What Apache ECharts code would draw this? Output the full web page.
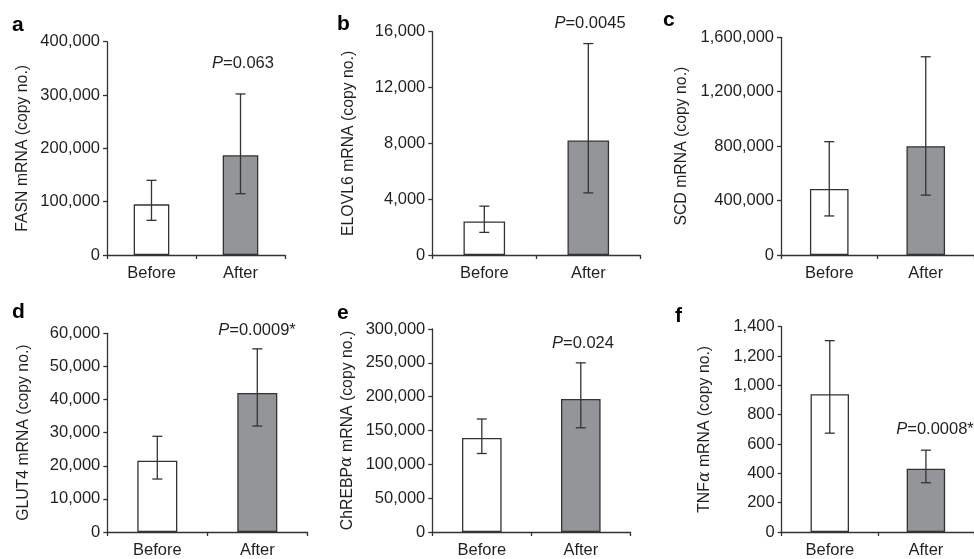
<!DOCTYPE html>
<html><head><meta charset="utf-8">
<script src="https://cdn.jsdelivr.net/npm/echarts@6/dist/echarts.min.js"></script>
<style>html,body{margin:0;padding:0;background:#fff}#c{width:974px;height:559px}</style>
</head><body><div id="c"></div>
<script>
const categories = ['Before', 'After'];
// panel a: FASN
const fasnMean = [95000, 187000];
const fasnLow = [65000, 115000];
const fasnHigh = [140000, 302000];
// panel b: ELOVL6
const elovlMean = [2400, 8200];
const elovlLow = [1620, 4450];
const elovlHigh = [3500, 15150];
// panel c: SCD
const scdMean = [485000, 800000];
const scdLow = [287000, 440000];
const scdHigh = [833000, 1457000];
// panel d: GLUT4
const glutMean = [21500, 42000];
const glutLow = [16000, 32000];
const glutHigh = [28900, 55300];
// panel e: ChREBPa
const chrebpMean = [139000, 196500];
const chrebpLow = [116000, 154000];
const chrebpHigh = [167000, 250000];
// panel f: TNFa
const tnfMean = [940, 432];
const tnfLow = [674, 336];
const tnfHigh = [1305, 558];
// axis ranges
const yMax = [400000, 16000, 1600000, 60000, 300000, 1400];
const yStep = [100000, 4000, 400000, 10000, 50000, 200];
const yTitles = [
  'FASN mRNA (copy no.)',
  'ELOVL6 mRNA (copy no.)',
  'SCD mRNA (copy no.)',
  'GLUT4 mRNA (copy no.)',
  '{n|ChREBP}{g|α}{n| mRNA (copy no.)}',
  '{n|TNF}{g|α}{n| mRNA (copy no.)}'
];
const panelLetters = ['a', 'b', 'c', 'd', 'e', 'f'];
const pTexts = ['0.063', '0.0045', '', '0.0009*', '0.024', '0.0008*'];

const means = [fasnMean, elovlMean, scdMean, glutMean, chrebpMean, tnfMean];
const lows = [fasnLow, elovlLow, scdLow, glutLow, chrebpLow, tnfLow];
const highs = [fasnHigh, elovlHigh, scdHigh, glutHigh, chrebpHigh, tnfHigh];

// layout
const grids = [
  {left: 107, top: 41.7, width: 178, height: 213.3},
  {left: 432.3, top: 31.7, width: 208, height: 223.3},
  {left: 781, top: 37.3, width: 198, height: 217.7},
  {left: 107.3, top: 333.3, width: 200, height: 201.7},
  {left: 432.3, top: 329, width: 198, height: 206},
  {left: 781.7, top: 326.7, width: 198.6, height: 208.3}
];
const nameGaps = [76, 76, 91, 76, 77, 69];
const letterPos = [[12, 15], [337, 14], [663, 10], [12, 302], [337, 303], [675, 306]];
const pPos = [[243, 63], [590, 23], [0, 0], [257, 330], [583, 343], [935, 429]];

const FONT = '"Liberation Sans", Arial, Helvetica, sans-serif';
const FS = 16.5;
const NFS = 15.8;
const TXT = '#231f20';
const LINE = '#333';
const GRAY = '#939598';

const fmt = v => v.toString().replace(/\B(?=(\d{3})+(?!\d))/g, ',');

const option = {
  animation: false,
  backgroundColor: '#fff',
  grid: grids.map(g => Object.assign({containLabel: false}, g)),
  xAxis: grids.map((g, i) => ({
    type: 'category', gridIndex: i, data: categories,
    axisLine: {lineStyle: {color: LINE, width: 1.3}},
    axisTick: {show: true, length: 4, lineStyle: {color: LINE, width: 1.3}},
    axisLabel: {color: TXT, fontFamily: FONT, fontSize: FS, margin: 10}
  })),
  yAxis: grids.map((g, i) => ({
    type: 'value', gridIndex: i, min: 0, max: yMax[i], interval: yStep[i],
    splitLine: {show: false},
    axisLine: {show: true, lineStyle: {color: LINE, width: 1.3}},
    axisTick: {show: true, length: 4, lineStyle: {color: LINE, width: 1.3}},
    axisLabel: {color: TXT, fontFamily: FONT, fontSize: FS, margin: 7, formatter: fmt},
    name: yTitles[i], nameLocation: 'middle', nameGap: nameGaps[i], nameRotate: 90,
    nameTextStyle: {color: TXT, fontFamily: FONT, fontSize: NFS,
      rich: {
        n: {color: TXT, fontFamily: FONT, fontSize: NFS},
        g: {color: TXT, fontFamily: '"DejaVu Serif", serif', fontStyle: 'italic', fontSize: NFS}
      }}
  })),
  series: []
};

means.forEach((m, i) => {
  option.series.push({
    type: 'bar', xAxisIndex: i, yAxisIndex: i, barWidth: '40%',
    data: m.map((v, k) => ({value: v, itemStyle: {color: k === 0 ? '#fff' : GRAY}})),
    itemStyle: {borderColor: LINE, borderWidth: 1.3},
    z: 2
  });
  option.series.push({
    type: 'custom', xAxisIndex: i, yAxisIndex: i, z: 5,
    data: m.map((v, k) => [k, lows[i][k], highs[i][k]]),
    renderItem: function (params, api) {
      const x = api.value(0);
      const lo = api.coord([x, api.value(1)]);
      const hi = api.coord([x, api.value(2)]);
      const hw = 5;
      const st = {stroke: LINE, lineWidth: 1.3};
      return {type: 'group', children: [
        {type: 'line', shape: {x1: lo[0], y1: lo[1], x2: hi[0], y2: hi[1]}, style: st},
        {type: 'line', shape: {x1: hi[0] - hw, y1: hi[1], x2: hi[0] + hw, y2: hi[1]}, style: st},
        {type: 'line', shape: {x1: lo[0] - hw, y1: lo[1], x2: lo[0] + hw, y2: lo[1]}, style: st}
      ]};
    }
  });
});

const graphics = [];
panelLetters.forEach((l, i) => {
  graphics.push({type: 'text', left: letterPos[i][0], top: letterPos[i][1],
    style: {text: l, font: 'bold 21px ' + FONT, fill: '#000'}});
});
pTexts.forEach((p, i) => {
  if (!p) return;
  graphics.push({type: 'text', x: pPos[i][0], y: pPos[i][1],
    style: {text: '{i|P}{n|=' + p + '}', align: 'center', verticalAlign: 'middle',
      rich: {
        i: {fontFamily: FONT, fontStyle: 'italic', fontSize: FS, fill: TXT, color: TXT},
        n: {fontFamily: FONT, fontSize: FS, fill: TXT, color: TXT}
      }}});
});
option.graphic = graphics;

const chart = echarts.init(document.getElementById('c'), null, {renderer: 'canvas'});
chart.setOption(option);
</script>
</body></html>
